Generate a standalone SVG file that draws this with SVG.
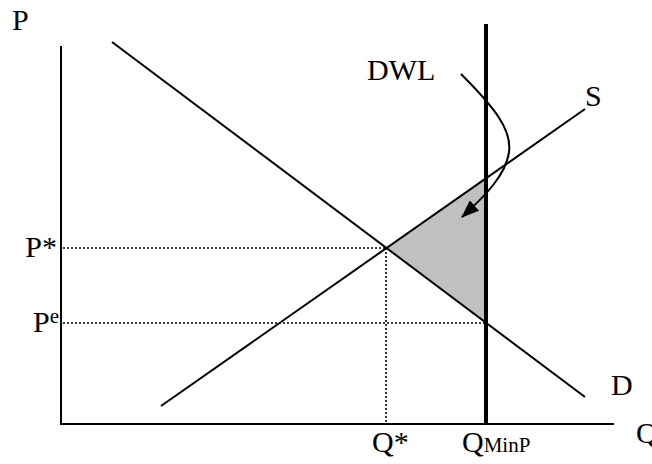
<svg xmlns="http://www.w3.org/2000/svg" width="652" height="464" viewBox="0 0 652 464">
<style>
text{font-family:"Liberation Serif","Times New Roman",serif;font-size:30px;fill:#000}
.sub{font-size:21px}
.ln{stroke:#000;stroke-width:2;fill:none}
.dot{stroke:#000;stroke-width:1.6;stroke-dasharray:2 2;fill:none}
</style>
<defs>
<marker id="ah" markerUnits="userSpaceOnUse" markerWidth="20" markerHeight="14" refX="17" refY="7" orient="auto">
<path d="M0,0 L18,7 L0,14 z" fill="#000"/>
</marker>
</defs>
<g id="dwl-area"><polygon points="386,248 486,177 486,323" fill="#c0c0c0"/></g>
<g id="connectors">
<line class="dot" x1="63" y1="248" x2="386" y2="248"/>
<line class="dot" x1="63" y1="323" x2="486" y2="323"/>
<line class="dot" x1="386" y1="248" x2="386" y2="424"/>
<line id="demand" class="ln" x1="112" y1="42" x2="585" y2="397"/>
<line id="supply" class="ln" x1="161" y1="406" x2="585" y2="109"/>
<line id="axis-y" class="ln" x1="61" y1="46" x2="61" y2="425"/>
<line id="axis-x" class="ln" x1="60" y1="424" x2="614" y2="424"/>
<line id="minp" stroke="#000" stroke-width="4" x1="486" y1="24" x2="486" y2="425"/>
<path id="dwl-arrow" class="ln" d="M461,74 C495,108 512,130 509,152 C506,175 485,196 462,217" marker-end="url(#ah)"/>
</g>
<g id="labels">
<text x="12" y="30">P</text>
<text x="57" y="257" text-anchor="end">P*</text>
<text x="33" y="332">P<tspan class="sub" dy="-9">e</tspan></text>
<text x="367" y="80">DWL</text>
<text x="585" y="106">S</text>
<text x="611" y="395">D</text>
<text x="372" y="452">Q*</text>
<text x="462" y="452">Q<tspan class="sub">MinP</tspan></text>
<text x="636" y="443">Q</text>
</g>
</svg>
